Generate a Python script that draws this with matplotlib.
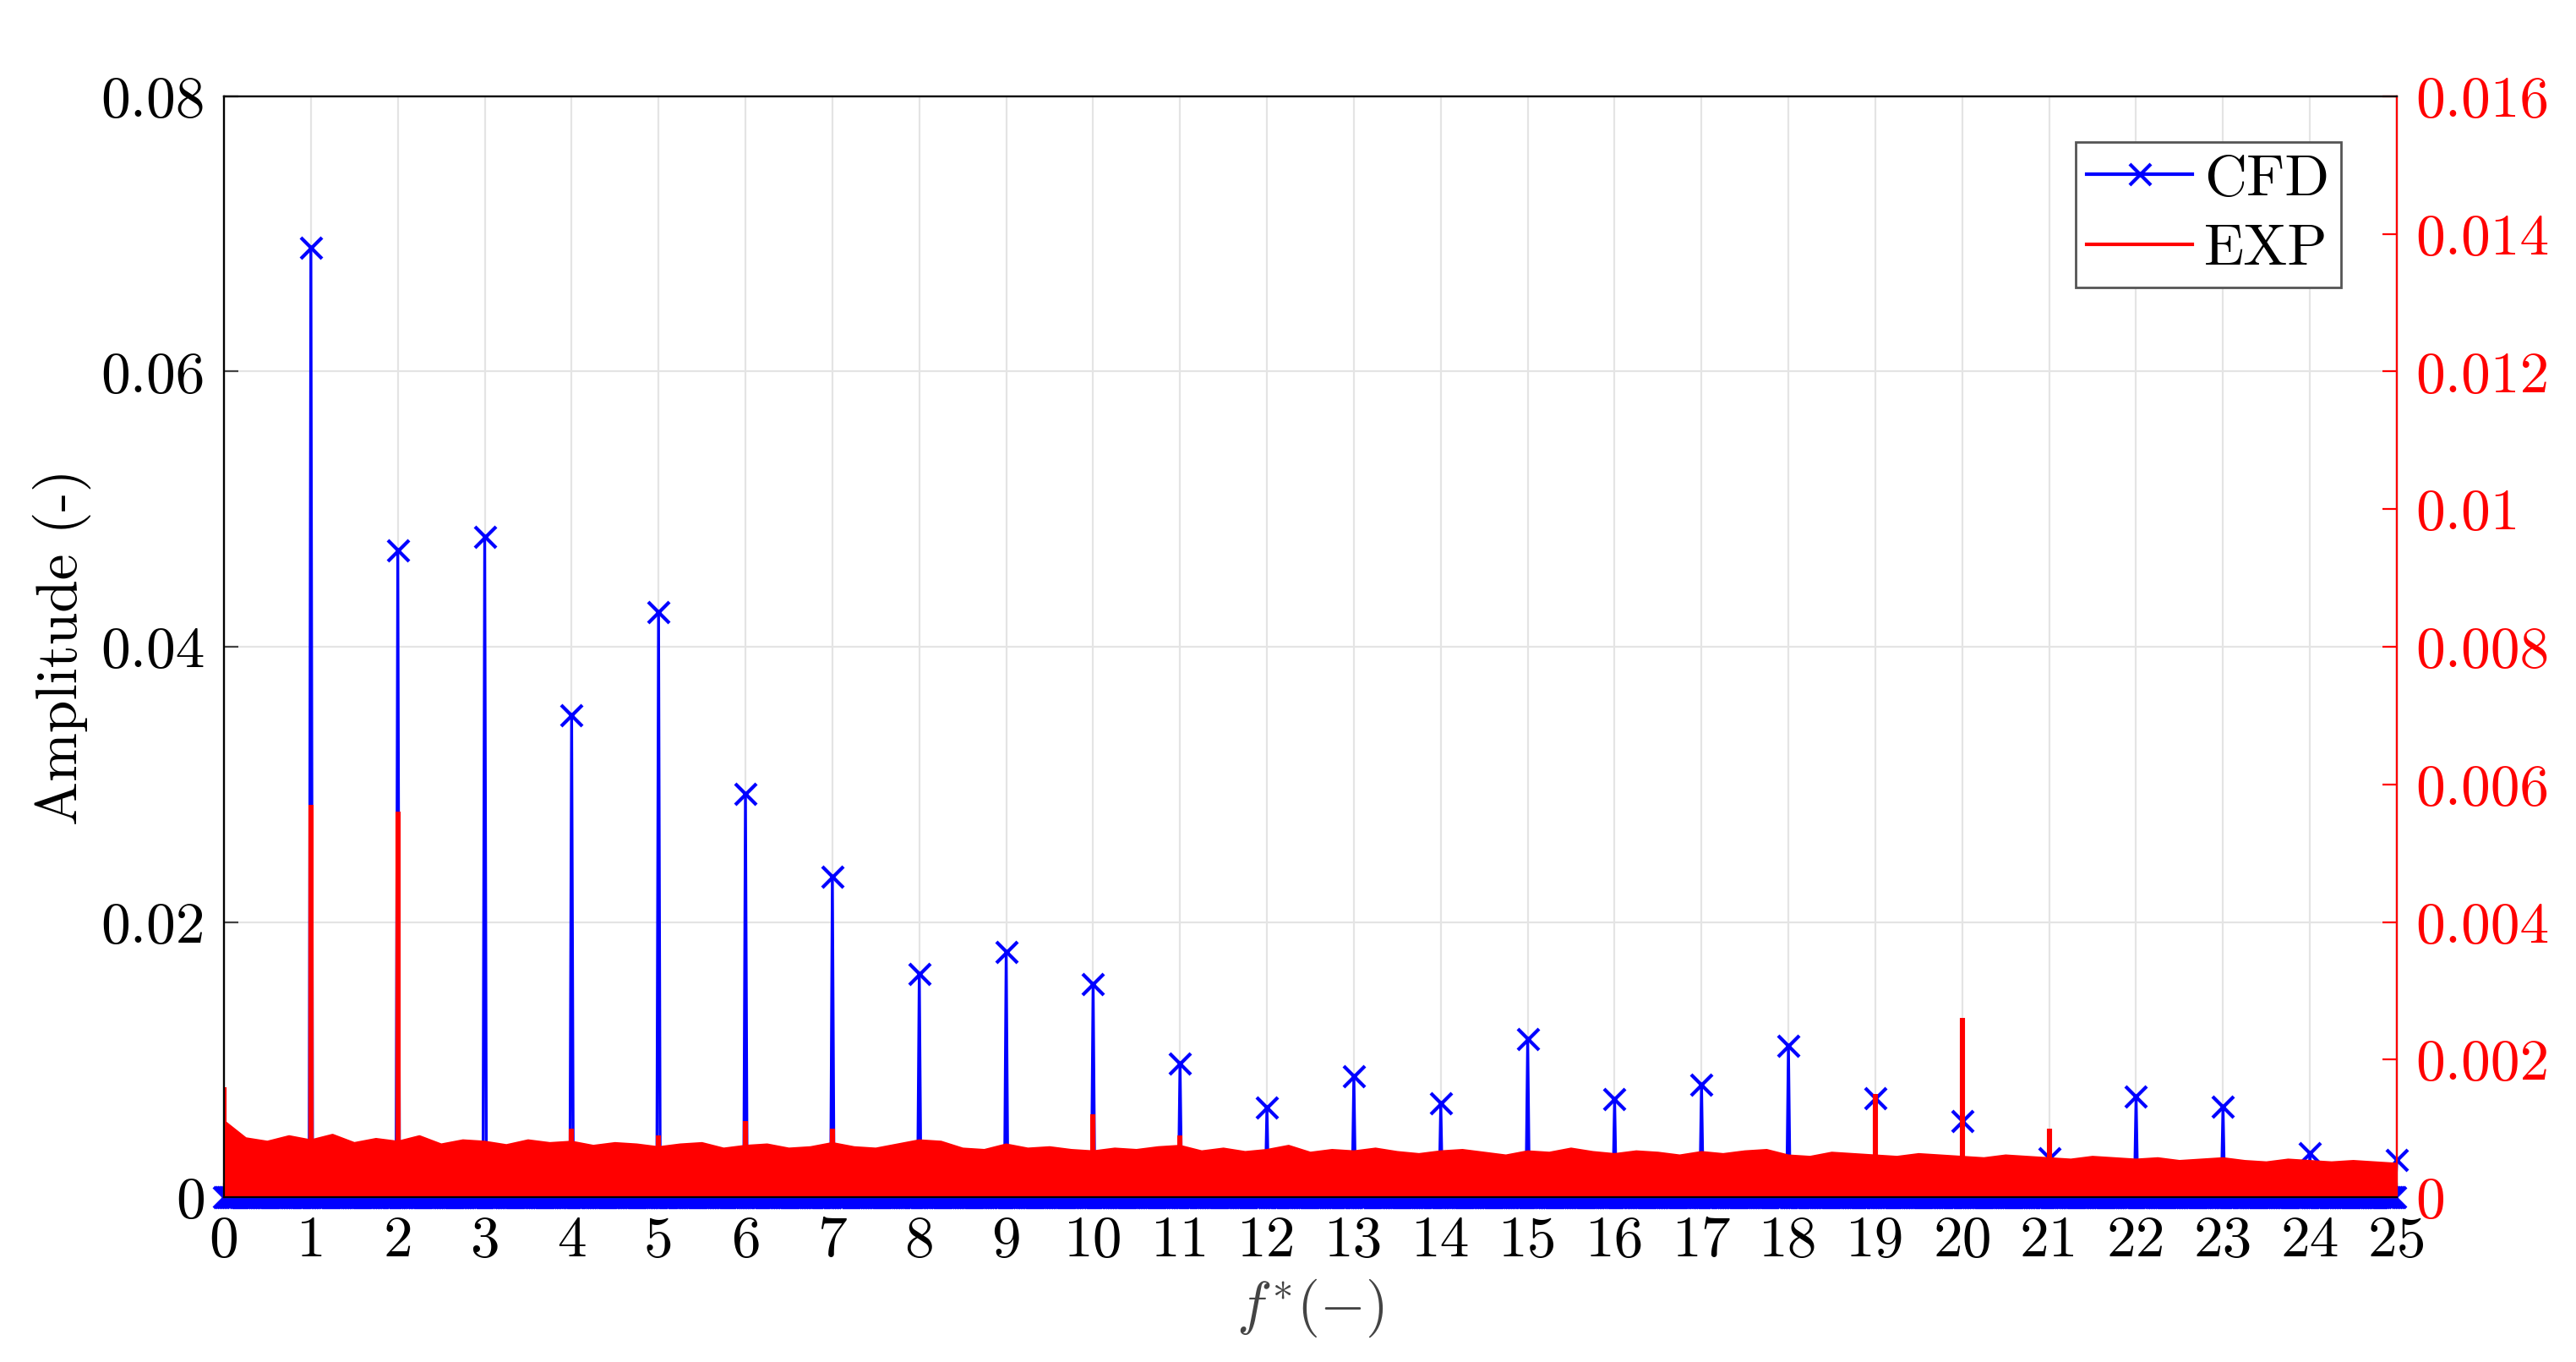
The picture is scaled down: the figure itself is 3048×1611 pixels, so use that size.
import numpy as np
import matplotlib.pyplot as plt

plt.rcParams['font.family'] = 'serif'
plt.rcParams['font.serif'] = ['cmr10', 'DejaVu Serif']
plt.rcParams['mathtext.fontset'] = 'cm'
plt.rcParams['axes.unicode_minus'] = False

# CFD: harmonic amplitudes at integer f*
cfd_harm = list(range(1, 26))
cfd_amp = [0.069, 0.047, 0.048, 0.035, 0.0425, 0.0293, 0.0233, 0.0162, 0.0178, 0.0155,
           0.0097, 0.0065, 0.0088, 0.0068, 0.0115, 0.0071, 0.0082, 0.0110, 0.0072, 0.0055,
           0.0028, 0.0073, 0.0066, 0.0032, 0.0027]
cfd_step = 0.02  # spectral resolution of CFD

# EXP: noise floor top (read every 0.25) and distinct peaks
exp_noise_f = [i * 0.25 for i in range(101)]
exp_noise = [0.0011, 0.00085, 0.0008, 0.00088, 0.00082, 0.0009, 0.00078, 0.00084, 0.0008, 0.00088,
             0.00076, 0.00082, 0.0008, 0.00075, 0.00082, 0.00078, 0.0008, 0.00074, 0.00078, 0.00076,
             0.00072, 0.00076, 0.00078, 0.0007, 0.00074, 0.00076, 0.0007, 0.00072, 0.00078, 0.00072,
             0.0007, 0.00076, 0.00082, 0.0008, 0.0007, 0.00068, 0.00076, 0.0007, 0.00072, 0.00068,
             0.00066, 0.0007, 0.00068, 0.00072, 0.00074, 0.00066, 0.0007, 0.00065, 0.00068, 0.00074,
             0.00064, 0.00068, 0.00066, 0.0007, 0.00065, 0.00062, 0.00066, 0.00068, 0.00064, 0.0006,
             0.00066, 0.00064, 0.0007, 0.00065, 0.00062, 0.00066, 0.00064, 0.0006, 0.00065, 0.00062,
             0.00066, 0.00068, 0.0006, 0.00058, 0.00064, 0.00062, 0.0006, 0.00058, 0.00062, 0.0006,
             0.00058, 0.00056, 0.0006, 0.00058, 0.00056, 0.00054, 0.00058, 0.00056, 0.00054, 0.00056,
             0.00052, 0.00054, 0.00056, 0.00052, 0.0005, 0.00054, 0.00052, 0.0005, 0.00052, 0.0005, 0.00048]
exp_peak_f = [0, 1, 2, 4, 5, 6, 7, 8, 10, 11, 19, 20, 21]
exp_peak = [0.0016, 0.0057, 0.0056, 0.001, 0.0009, 0.0011, 0.001, 0.0008, 0.0012, 0.0009, 0.0015, 0.0026, 0.001]

xticks = list(range(26))
yticks_l = [0, 0.02, 0.04, 0.06, 0.08]
ylabels_l = ['0', '0.02', '0.04', '0.06', '0.08']
yticks_r = [0, 0.002, 0.004, 0.006, 0.008, 0.01, 0.012, 0.014, 0.016]
ylabels_r = ['0', '0.002', '0.004', '0.006', '0.008', '0.01', '0.012', '0.014', '0.016']

# build CFD spectrum on its frequency grid
f_cfd = np.round(np.arange(0, 25 + cfd_step / 2, cfd_step), 4)
a_cfd = np.zeros_like(f_cfd)
for h, a in zip(cfd_harm, cfd_amp):
    a_cfd[np.argmin(np.abs(f_cfd - h))] = a

fig = plt.figure(figsize=(15.24, 8.055), dpi=200)
ax1 = fig.add_axes([265 / 3048, 1 - 1416 / 1611, (2836 - 265) / 3048, (1416 - 114) / 1611])
ax2 = ax1.twinx()

fs = 25
ax1.plot(f_cfd, a_cfd, color='blue', lw=1.2, marker='x', ms=9, mew=1.5, label='CFD', clip_on=False, zorder=1)
ax1.set_xlim(0, 25)
ax1.set_ylim(0, 0.08)
ax1.set_xticks(xticks)
ax1.set_xticklabels([str(t) for t in xticks])
ax1.set_yticks(yticks_l)
ax1.set_yticklabels(ylabels_l)
ax1.grid(True, color='#e4e4e4', lw=0.8)
ax1.set_axisbelow(True)
ax1.set_ylabel('Amplitude (-)', fontsize=fs)
ax1.set_xlabel(r'$f^{*}(-)$', fontsize=fs, color='#444444')
ax1.tick_params(labelsize=fs, direction='in', length=6, color='#444444', pad=8)
for s in ax1.spines.values():
    s.set_color('#555555')

ax2.fill_between(exp_noise_f, 0, exp_noise, color='red', lw=0)
ax2.plot(exp_noise_f, exp_noise, color='red', lw=1.2)
ax2.vlines(exp_peak_f, 0, exp_peak, color='red', lw=2.2)
ax2.set_ylim(0, 0.016)
ax2.set_yticks(yticks_r)
ax2.set_yticklabels(ylabels_r)
ax2.tick_params(labelsize=fs, colors='red', direction='in', length=6, pad=8)
ax2.spines['right'].set_color('red')

ax2.plot([], [], color='blue', marker='x', ms=9, mew=1.5, label='CFD')
ax2.plot([], [], color='red', lw=1.5, label='EXP')
h, l = ax2.get_legend_handles_labels()
ax2.legend(h[-2:], l[-2:], loc='upper right', fontsize=fs, fancybox=False, edgecolor='#555555',
           framealpha=1, handlelength=1.8, handletextpad=0.2, borderpad=0.2, labelspacing=0.3,
           bbox_to_anchor=(0.988, 0.985))

fig.savefig('out.png', dpi=200, facecolor='w')
